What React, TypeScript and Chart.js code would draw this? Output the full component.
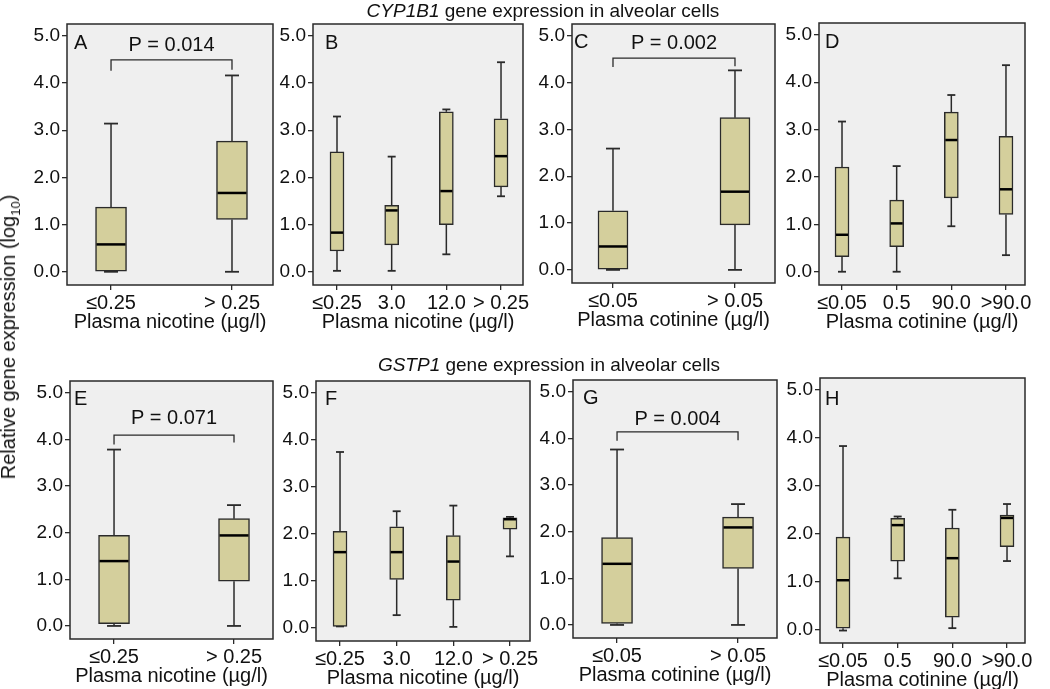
import React, { useEffect, useRef } from 'react';
import { Chart, registerables } from 'chart.js';

Chart.register(...registerables);

// ---------- data ----------
const nicotine2 = ['≤0.25', '> 0.25'];
const nicotine4 = ['≤0.25', '3.0', '12.0', '> 0.25'];
const cotinine2 = ['≤0.05', '> 0.05'];
const cotinine4 = ['≤0.05', '0.5', '90.0', '>90.0'];
const yTickValues = [0, 1, 2, 3, 4, 5];

const titleNicotine = 'Plasma nicotine (µg/l)';
const titleCotinine = 'Plasma cotinine (µg/l)';

// box statistics: whisker low, Q1, median, Q3, whisker high
const statsA = { low: [0.0, 0.0], q1: [0.0, 1.11], median: [0.58, 1.67], q3: [1.37, 2.77], high: [3.14, 4.16] };
const statsB = { low: [0.02, 0.02, 0.37, 1.6], q1: [0.44, 0.57, 1.0, 1.8], median: [0.83, 1.3, 1.71, 2.45], q3: [2.54, 1.41, 3.39, 3.24], high: [3.29, 2.44, 3.44, 4.44] };
const statsC = { low: [0.0, 0.0], q1: [0.0, 0.96], median: [0.5, 1.67], q3: [1.26, 3.25], high: [2.59, 4.26] };
const statsD = { low: [0.0, 0.0, 0.96, 0.35], q1: [0.32, 0.53, 1.56, 1.21], median: [0.78, 1.02, 2.78, 1.74], q3: [2.21, 1.51, 3.37, 2.86], high: [3.17, 2.23, 3.73, 4.36] };
const statsE = { low: [0.0, 0.0], q1: [0.05, 0.96], median: [1.39, 1.94], q3: [1.94, 2.3], high: [3.78, 2.59] };
const statsF = { low: [0.03, 0.27, 0.02, 1.52], q1: [0.03, 1.03, 0.59, 2.1], median: [1.61, 1.61, 1.41, 2.31], q3: [2.05, 2.15, 1.96, 2.34], high: [3.74, 2.48, 2.6, 2.36] };
const statsG = { low: [0.0, 0.0], q1: [0.03, 1.21], median: [1.31, 2.09], q3: [1.87, 2.31], high: [3.76, 2.59] };
const statsH = { low: [-0.02, 1.07, 0.03, 1.43], q1: [0.03, 1.43, 0.26, 1.73], median: [1.03, 2.18, 1.49, 2.33], q3: [1.93, 2.32, 2.12, 2.39], high: [3.83, 2.36, 2.5, 2.62] };

// significance brackets: label, bracket level, left/right drop ends, text level
const pA = { text: 'P = 0.014', level: 4.49, leftEnd: 4.26, rightEnd: 4.28, textAt: 4.79 };
const pC = { text: 'P = 0.002', level: 4.52, leftEnd: 4.33, rightEnd: 4.35, textAt: 4.84 };
const pE = { text: 'P = 0.071', level: 4.09, leftEnd: 3.89, rightEnd: 3.93, textAt: 4.44 };
const pG = { text: 'P = 0.004', level: 4.14, leftEnd: 3.95, rightEnd: 3.96, textAt: 4.41 };

// ---------- layout / style ----------
const FONT = "'Liberation Sans', Arial, Helvetica, sans-serif";
const TEXT = '#111';
const LINE = '#2a2a2a';
const BOX_FILL = '#d4cf9c';
const PANEL_BG = '#efefef';

type Stats = { low: number[]; q1: number[]; median: number[]; q3: number[]; high: number[] };
type PNote = { text: string; level: number; leftEnd: number; rightEnd: number; textAt: number };

interface PanelCfg {
  letter: string;
  cats: string[];
  stats: Stats;
  xTitle: string;
  frame: [number, number, number, number];
  xMin: number;
  xMax: number;
  boxW: number;
  capW: number;
  letterDx: number;
  letterDy: number;
  note?: PNote;
}

const panels: PanelCfg[] = [
  { letter: 'A', cats: nicotine2, stats: statsA, xTitle: titleNicotine, frame: [67, 24, 273, 285], xMin: -0.364, xMax: 1.339, boxW: 31, capW: 14, letterDx: 7, letterDy: 19, note: pA },
  { letter: 'B', cats: nicotine4, stats: statsB, xTitle: titleNicotine, frame: [313, 24, 523, 285], xMin: -0.439, xMax: 3.402, boxW: 14, capW: 8, letterDx: 12, letterDy: 19 },
  { letter: 'C', cats: cotinine2, stats: statsC, xTitle: titleCotinine, frame: [572, 24, 775, 283], xMin: -0.336, xMax: 1.328, boxW: 30, capW: 14, letterDx: 2, letterDy: 18, note: pC },
  { letter: 'D', cats: cotinine4, stats: statsD, xTitle: titleCotinine, frame: [819, 23, 1025, 285], xMin: -0.421, xMax: 3.348, boxW: 14, capW: 8, letterDx: 6, letterDy: 19 },
  { letter: 'E', cats: nicotine2, stats: statsE, xTitle: titleNicotine, frame: [70, 381, 273, 639], xMin: -0.367, xMax: 1.325, boxW: 31, capW: 14, letterDx: 4, letterDy: 18, note: pE },
  { letter: 'F', cats: nicotine4, stats: statsF, xTitle: titleNicotine, frame: [316, 381, 530, 641], xMin: -0.424, xMax: 3.353, boxW: 14, capW: 8, letterDx: 9, letterDy: 18 },
  { letter: 'G', cats: cotinine2, stats: statsG, xTitle: titleCotinine, frame: [573, 380, 777, 638], xMin: -0.364, xMax: 1.322, boxW: 31, capW: 14, letterDx: 10, letterDy: 18, note: pG },
  { letter: 'H', cats: cotinine4, stats: statsH, xTitle: titleCotinine, frame: [820, 378, 1025, 643], xMin: -0.421, xMax: 3.329, boxW: 14, capW: 8, letterDx: 5, letterDy: 21 },
];

const Y_W = 56;
const TOP_PAD = 20;
const RIGHT_PAD = 40;
const X_H = 50;

function line(ctx: CanvasRenderingContext2D, x1: number, y1: number, x2: number, y2: number) {
  ctx.beginPath();
  ctx.moveTo(x1, y1);
  ctx.lineTo(x2, y2);
  ctx.stroke();
}

function Panel({ cfg }: { cfg: PanelCfg }) {
  const ref = useRef<HTMLCanvasElement>(null);
  const [l, t, r, b] = cfg.frame;
  const width = r - l + Y_W + RIGHT_PAD;
  const height = b - t + TOP_PAD + X_H;

  useEffect(() => {
    if (!ref.current) return;
    const s = cfg.stats;
    const boxPlugin = {
      id: 'box' + cfg.letter,
      beforeDraw(chart: any) {
        const { ctx, chartArea: a } = chart;
        ctx.save();
        ctx.fillStyle = PANEL_BG;
        ctx.fillRect(a.left, a.top, a.right - a.left, a.bottom - a.top);
        ctx.restore();
      },
      beforeDatasetsDraw(chart: any) {
        const { ctx } = chart;
        const xs = chart.scales.x;
        const ys = chart.scales.y;
        ctx.save();
        ctx.strokeStyle = LINE;
        ctx.lineWidth = 1.5;
        cfg.cats.forEach((_, i) => {
          const x = xs.getPixelForValue(i);
          const yh = ys.getPixelForValue(s.high[i]);
          const yl = ys.getPixelForValue(s.low[i]);
          line(ctx, x, ys.getPixelForValue(s.q3[i]), x, yh);
          line(ctx, x, ys.getPixelForValue(s.q1[i]), x, yl);
          ctx.lineWidth = 1.8;
          line(ctx, x - cfg.capW / 2, yh, x + cfg.capW / 2, yh);
          line(ctx, x - cfg.capW / 2, yl, x + cfg.capW / 2, yl);
          ctx.lineWidth = 1.5;
        });
        ctx.restore();
      },
      afterDatasetsDraw(chart: any) {
        const { ctx, chartArea: a } = chart;
        const xs = chart.scales.x;
        const ys = chart.scales.y;
        ctx.save();
        ctx.strokeStyle = '#000';
        ctx.lineWidth = 2.5;
        cfg.cats.forEach((_, i) => {
          const x = xs.getPixelForValue(i);
          const ym = ys.getPixelForValue(s.median[i]);
          line(ctx, x - cfg.boxW / 2 + 1, ym, x + cfg.boxW / 2 - 1, ym);
        });
        if (cfg.note) {
          const n = cfg.note;
          const x0 = xs.getPixelForValue(0);
          const x1 = xs.getPixelForValue(1);
          const yt = ys.getPixelForValue(n.level);
          ctx.strokeStyle = LINE;
          ctx.lineWidth = 1.3;
          ctx.beginPath();
          ctx.moveTo(x0, ys.getPixelForValue(n.leftEnd));
          ctx.lineTo(x0, yt);
          ctx.lineTo(x1, yt);
          ctx.lineTo(x1, ys.getPixelForValue(n.rightEnd));
          ctx.stroke();
          ctx.fillStyle = TEXT;
          ctx.font = `20px ${FONT}`;
          ctx.textAlign = 'center';
          ctx.textBaseline = 'middle';
          ctx.fillText(n.text, (x0 + x1) / 2, ys.getPixelForValue(n.textAt));
        }
        ctx.fillStyle = TEXT;
        ctx.font = `20px ${FONT}`;
        ctx.textAlign = 'left';
        ctx.textBaseline = 'middle';
        ctx.fillText(cfg.letter, a.left + cfg.letterDx, a.top + cfg.letterDy);
        ctx.restore();
      },
      afterDraw(chart: any) {
        const { ctx, chartArea: a } = chart;
        ctx.save();
        ctx.strokeStyle = LINE;
        ctx.lineWidth = 1.5;
        ctx.strokeRect(a.left, a.top, a.right - a.left, a.bottom - a.top);
        ctx.restore();
      },
    };

    const chart = new Chart(ref.current, {
      type: 'bar',
      data: {
        datasets: [
          {
            data: cfg.cats.map((_, i) => ({ x: i, y: [s.q1[i], s.q3[i]] })) as any,
            backgroundColor: BOX_FILL,
            borderColor: LINE,
            borderWidth: 1.5,
            borderSkipped: false,
            barThickness: cfg.boxW,
          },
        ],
      },
      options: {
        animation: false,
        responsive: false,
        maintainAspectRatio: false,
        devicePixelRatio: 1,
        events: [],
        layout: { padding: { top: TOP_PAD, right: RIGHT_PAD, left: 0, bottom: 0 } },
        plugins: { legend: { display: false }, tooltip: { enabled: false } },
        scales: {
          x: {
            type: 'linear',
            min: cfg.xMin,
            max: cfg.xMax,
            offset: false,
            afterFit: (sc: any) => {
              sc.height = X_H;
            },
            afterBuildTicks: (sc: any) => {
              sc.ticks = cfg.cats.map((_, i) => ({ value: i }));
            },
            ticks: {
              callback: (_v: any, i: number) => cfg.cats[i],
              font: { family: FONT, size: 20 },
              color: TEXT,
              padding: 1,
              maxRotation: 0,
              autoSkip: false,
            },
            grid: { offset: false, drawOnChartArea: false, drawTicks: true, tickLength: 5, color: LINE, lineWidth: 1.3 },
            border: { display: false },
            title: {
              display: true,
              text: cfg.xTitle,
              font: { family: FONT, size: 20 },
              color: TEXT,
              padding: { top: 0, bottom: 1 },
            },
          },
          y: {
            type: 'linear',
            min: -0.28,
            max: 5.25,
            afterFit: (sc: any) => {
              sc.width = Y_W;
            },
            afterBuildTicks: (sc: any) => {
              sc.ticks = yTickValues.map((v) => ({ value: v }));
            },
            ticks: {
              callback: (v: any) => Number(v).toFixed(1),
              font: { family: FONT, size: 19 },
              color: TEXT,
              padding: 2,
            },
            grid: { drawOnChartArea: false, drawTicks: true, tickLength: 5, color: LINE, lineWidth: 1.3 },
            border: { display: false },
          },
        },
      },
      plugins: [boxPlugin],
    } as any);
    return () => chart.destroy();
  }, []);

  return (
    <canvas
      ref={ref}
      width={width}
      height={height}
      style={{ position: 'absolute', left: l - Y_W, top: t - TOP_PAD, width, height }}
    />
  );
}

export default function App() {
  const headStyle: React.CSSProperties = {
    position: 'absolute',
    transform: 'translateX(-50%)',
    whiteSpace: 'nowrap',
    fontFamily: FONT,
    fontSize: 19,
    lineHeight: '22px',
    color: TEXT,
  };
  return (
    <div
      style={{
        position: 'absolute',
        left: 0,
        top: 0,
        width: 1050,
        height: 689,
        overflow: 'hidden',
        background: '#fff',
      }}
    >
      {panels.map((p) => (
        <Panel key={p.letter} cfg={p} />
      ))}
      <div style={{ ...headStyle, left: 543, top: 0 }}>
        <i>CYP1B1</i> gene expression in alveolar cells
      </div>
      <div style={{ ...headStyle, left: 549, top: 354 }}>
        <i>GSTP1</i> gene expression in alveolar cells
      </div>
      <div
        style={{
          position: 'absolute',
          left: 12,
          top: 337,
          transform: 'translate(-50%, -50%) rotate(-90deg)',
          whiteSpace: 'nowrap',
          fontFamily: FONT,
          fontSize: 20,
          lineHeight: '24px',
          color: TEXT,
        }}
      >
        Relative gene expression (log<sub style={{ fontSize: 13 }}>10</sub>)
      </div>
    </div>
  );
}
